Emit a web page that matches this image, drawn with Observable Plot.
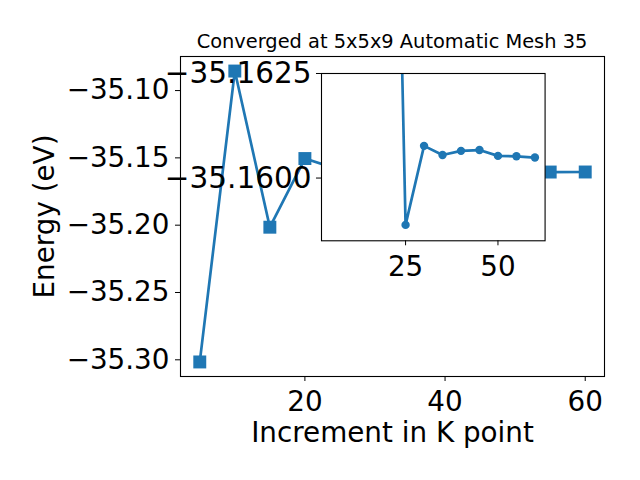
<!DOCTYPE html>
<html><head><meta charset="utf-8">
<script src="https://cdn.jsdelivr.net/npm/d3@7"></script>
<script src="https://cdn.jsdelivr.net/npm/@observablehq/plot@0.6"></script>
<style>
html,body{margin:0;padding:0;background:#fff;}
#chart{position:relative;width:640px;height:480px;font-family:"DejaVu Sans";overflow:hidden;}
#title{position:absolute;left:180px;width:424px;top:31.6px;text-align:center;font-size:19.4px;line-height:19.4px;color:#000;white-space:nowrap;}
#main{position:absolute;left:0;top:0;}
#inset{position:absolute;left:150.7px;top:62.7px;}
svg{overflow:visible;}
</style></head><body>
<div id="chart"><div id="main"></div><div id="inset"></div><div id="title"></div></div>
<script>
const titleText = "Converged at 5x5x9 Automatic Mesh 35";
const xLabel = "Increment in K point";
const yLabel = "Energy (eV)";
const kPoints = [5, 10, 15, 20, 25, 30, 35, 40, 45, 50, 55, 60];
const energy = [-35.3016, -35.0855, -35.2015, -35.1505, -35.1589, -35.16077, -35.16055, -35.16065, -35.16067, -35.16053, -35.16052, -35.16049];
const insetK = [20, 25, 30, 35, 40, 45, 50, 55, 60];
const insetEnergy = [-35.1790, -35.15888, -35.16077, -35.16055, -35.16065, -35.16067, -35.16053, -35.16052, -35.16049];
const xTicks = [20, 40, 60];
const yTicks = [-35.30, -35.25, -35.20, -35.15, -35.10];
const insetXTicks = [25, 50];
const insetYTicks = [-35.1625, -35.1600];
const insetYLimits = [-35.1585, -35.1625];
const blue = "#1f77b4";

const pad = ([a, b]) => [a - (b - a) * 0.05, b + (b - a) * 0.05];
const mainData = kPoints.map((k, i) => ({k, e: energy[i]}));
const insetData = insetK.map((k, i) => ({k, e: insetEnergy[i]}));
const font = {fontFamily: "DejaVu Sans", fontSize: "27.8px", background: "transparent", overflow: "visible", color: "black"};

document.getElementById("title").textContent = titleText;

const main = Plot.plot({
  width: 640, height: 480,
  marginTop: 56, marginRight: 36, marginBottom: 104, marginLeft: 180,
  style: font,
  x: {domain: pad(d3.extent(kPoints))},
  y: {domain: pad(d3.extent(energy))},
  marks: [
    Plot.axisX({ticks: xTicks, tickSize: 5, tickPadding: 10, tickFormat: d3.format("d"), label: xLabel, labelAnchor: "center", labelOffset: 65, labelArrow: "none", fontSize: 27.8}),
    Plot.axisY({ticks: yTicks, tickSize: 5, tickPadding: 6, tickFormat: d3.format(".2f"), label: yLabel, labelAnchor: "center", labelOffset: 146, labelArrow: "none", fontSize: 27.8}),
    Plot.line(mainData, {x: "k", y: "e", stroke: blue, strokeWidth: 2.7}),
    Plot.dot(mainData, {x: "k", y: "e", symbol: "square", r: 7.3, fill: blue}),
    Plot.frame({stroke: "black", strokeWidth: 1.1})
  ]
});
document.getElementById("main").append(main);

const inset = Plot.plot({
  width: 403.6, height: 222.3,
  marginTop: 10, marginRight: 10, marginBottom: 45, marginLeft: 170,
  style: font,
  x: {domain: pad(d3.extent(kPoints))},
  y: {domain: insetYLimits},
  marks: [
    Plot.frame({fill: "white", stroke: "none"}),
    Plot.axisX({ticks: insetXTicks, tickSize: 5, tickPadding: 10, tickFormat: d3.format("d"), label: null, fontSize: 27.8}),
    Plot.axisY({ticks: insetYTicks, tickSize: 5, tickPadding: 5, tickFormat: d3.format(".4f"), label: null, fontSize: 29.5}),
    Plot.line(insetData, {x: "k", y: "e", stroke: blue, strokeWidth: 2.7, clip: true}),
    Plot.dot(insetData, {x: "k", y: "e", r: 4.2, fill: blue, clip: true}),
    Plot.frame({stroke: "black", strokeWidth: 1.1})
  ]
});
document.getElementById("inset").append(inset);
</script>
</body></html>
